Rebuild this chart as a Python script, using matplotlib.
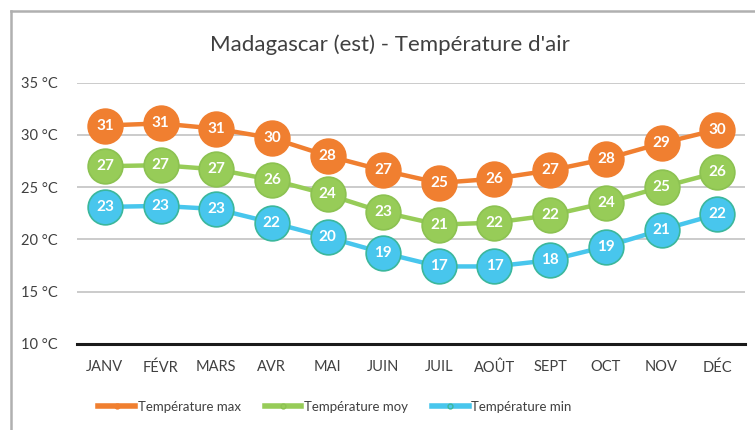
import matplotlib.pyplot as plt
from matplotlib.lines import Line2D

months = ["JANV", "FÉVR", "MARS", "AVR", "MAI", "JUIN",
          "JUIL", "AOÛT", "SEPT", "OCT", "NOV", "DÉC"]
temp_max = [30.9, 31.1, 30.6, 29.7, 28.0, 26.6, 25.4, 25.8, 26.6, 27.7, 29.2, 30.5]
temp_moy = [27.0, 27.1, 26.7, 25.7, 24.3, 22.6, 21.4, 21.6, 22.3, 23.5, 25.0, 26.4]
temp_min = [23.1, 23.2, 22.9, 21.6, 20.2, 18.7, 17.4, 17.4, 18.0, 19.3, 20.9, 22.4]
series_names = ["Température max", "Température moy", "Température min"]
yticks = [10, 15, 20, 25, 30, 35]

plt.rcParams['font.family'] = ['Lato', 'DejaVu Sans']

fig = plt.figure(figsize=(7.55, 4.30), dpi=100)
# plot area in figure fractions
ax = fig.add_axes([77 / 755, 1 - 343.7 / 430, 668 / 755, 261 / 430])

styles = [
    (temp_max, "#F07F30", "#F07F30"),
    (temp_moy, "#97CC58", "#8CC251"),
    (temp_min, "#48C6ED", "#3BB79C"),
]
x = list(range(len(months)))
for (vals, col, edge), name in zip(styles, series_names):
    ax.plot(x, vals, color=col, lw=3.2, marker="o", ms=25,
            markerfacecolor=col, markeredgecolor=edge, markeredgewidth=1.2,
            zorder=3, label=name)
    for xi, v in zip(x, vals):
        ax.text(xi, v, "{:.0f}".format(v), ha="center", va="center",
                color="white", fontsize=11, fontweight="bold", zorder=4)

ax.set_xlim(-0.5, 11.5)
ax.set_ylim(10, 35)
ax.set_yticks(yticks)
ax.set_yticklabels(["{} °C".format(t) for t in yticks])
ax.set_xticks(x)
ax.set_xticklabels(months)
ax.yaxis.grid(True, color="#BDBDBD", lw=1.1)
ax.set_axisbelow(True)
for s in ["top", "right", "left"]:
    ax.spines[s].set_visible(False)
ax.spines["bottom"].set_color("#1A1A1A")
ax.spines["bottom"].set_linewidth(2.2)
ax.tick_params(axis="both", length=0, labelsize=10.5, colors="#404040")
ax.tick_params(axis="y", pad=14)
ax.tick_params(axis="x", pad=12)

fig.text(390 / 755, 1 - 45 / 430, "Madagascar (est) - Température d'air",
         ha="center", va="center", fontsize=16, color="#404040")

# legend with thick short lines and tiny markers
handles = [Line2D([], [], color=c, lw=4, marker="o", ms=3.5,
                  markerfacecolor=c, markeredgecolor=e)
           for _, c, e in styles]
fig.legend(handles, series_names, loc="center", ncol=3,
           bbox_to_anchor=(335 / 755, 1 - 407 / 430), frameon=False,
           fontsize=9.5, handlelength=2.8, handletextpad=0.2,
           columnspacing=1.8, labelcolor="#404040")

# outer frame: top and left edges
fig.add_artist(Line2D([11 / 755, 1], [1 - 11 / 430] * 2, color="#B0B0B0",
                      lw=1.8, transform=fig.transFigure))
fig.add_artist(Line2D([11 / 755] * 2, [0, 1 - 11 / 430], color="#B0B0B0",
                      lw=1.8, transform=fig.transFigure))

fig.savefig("out.png", dpi=100)
